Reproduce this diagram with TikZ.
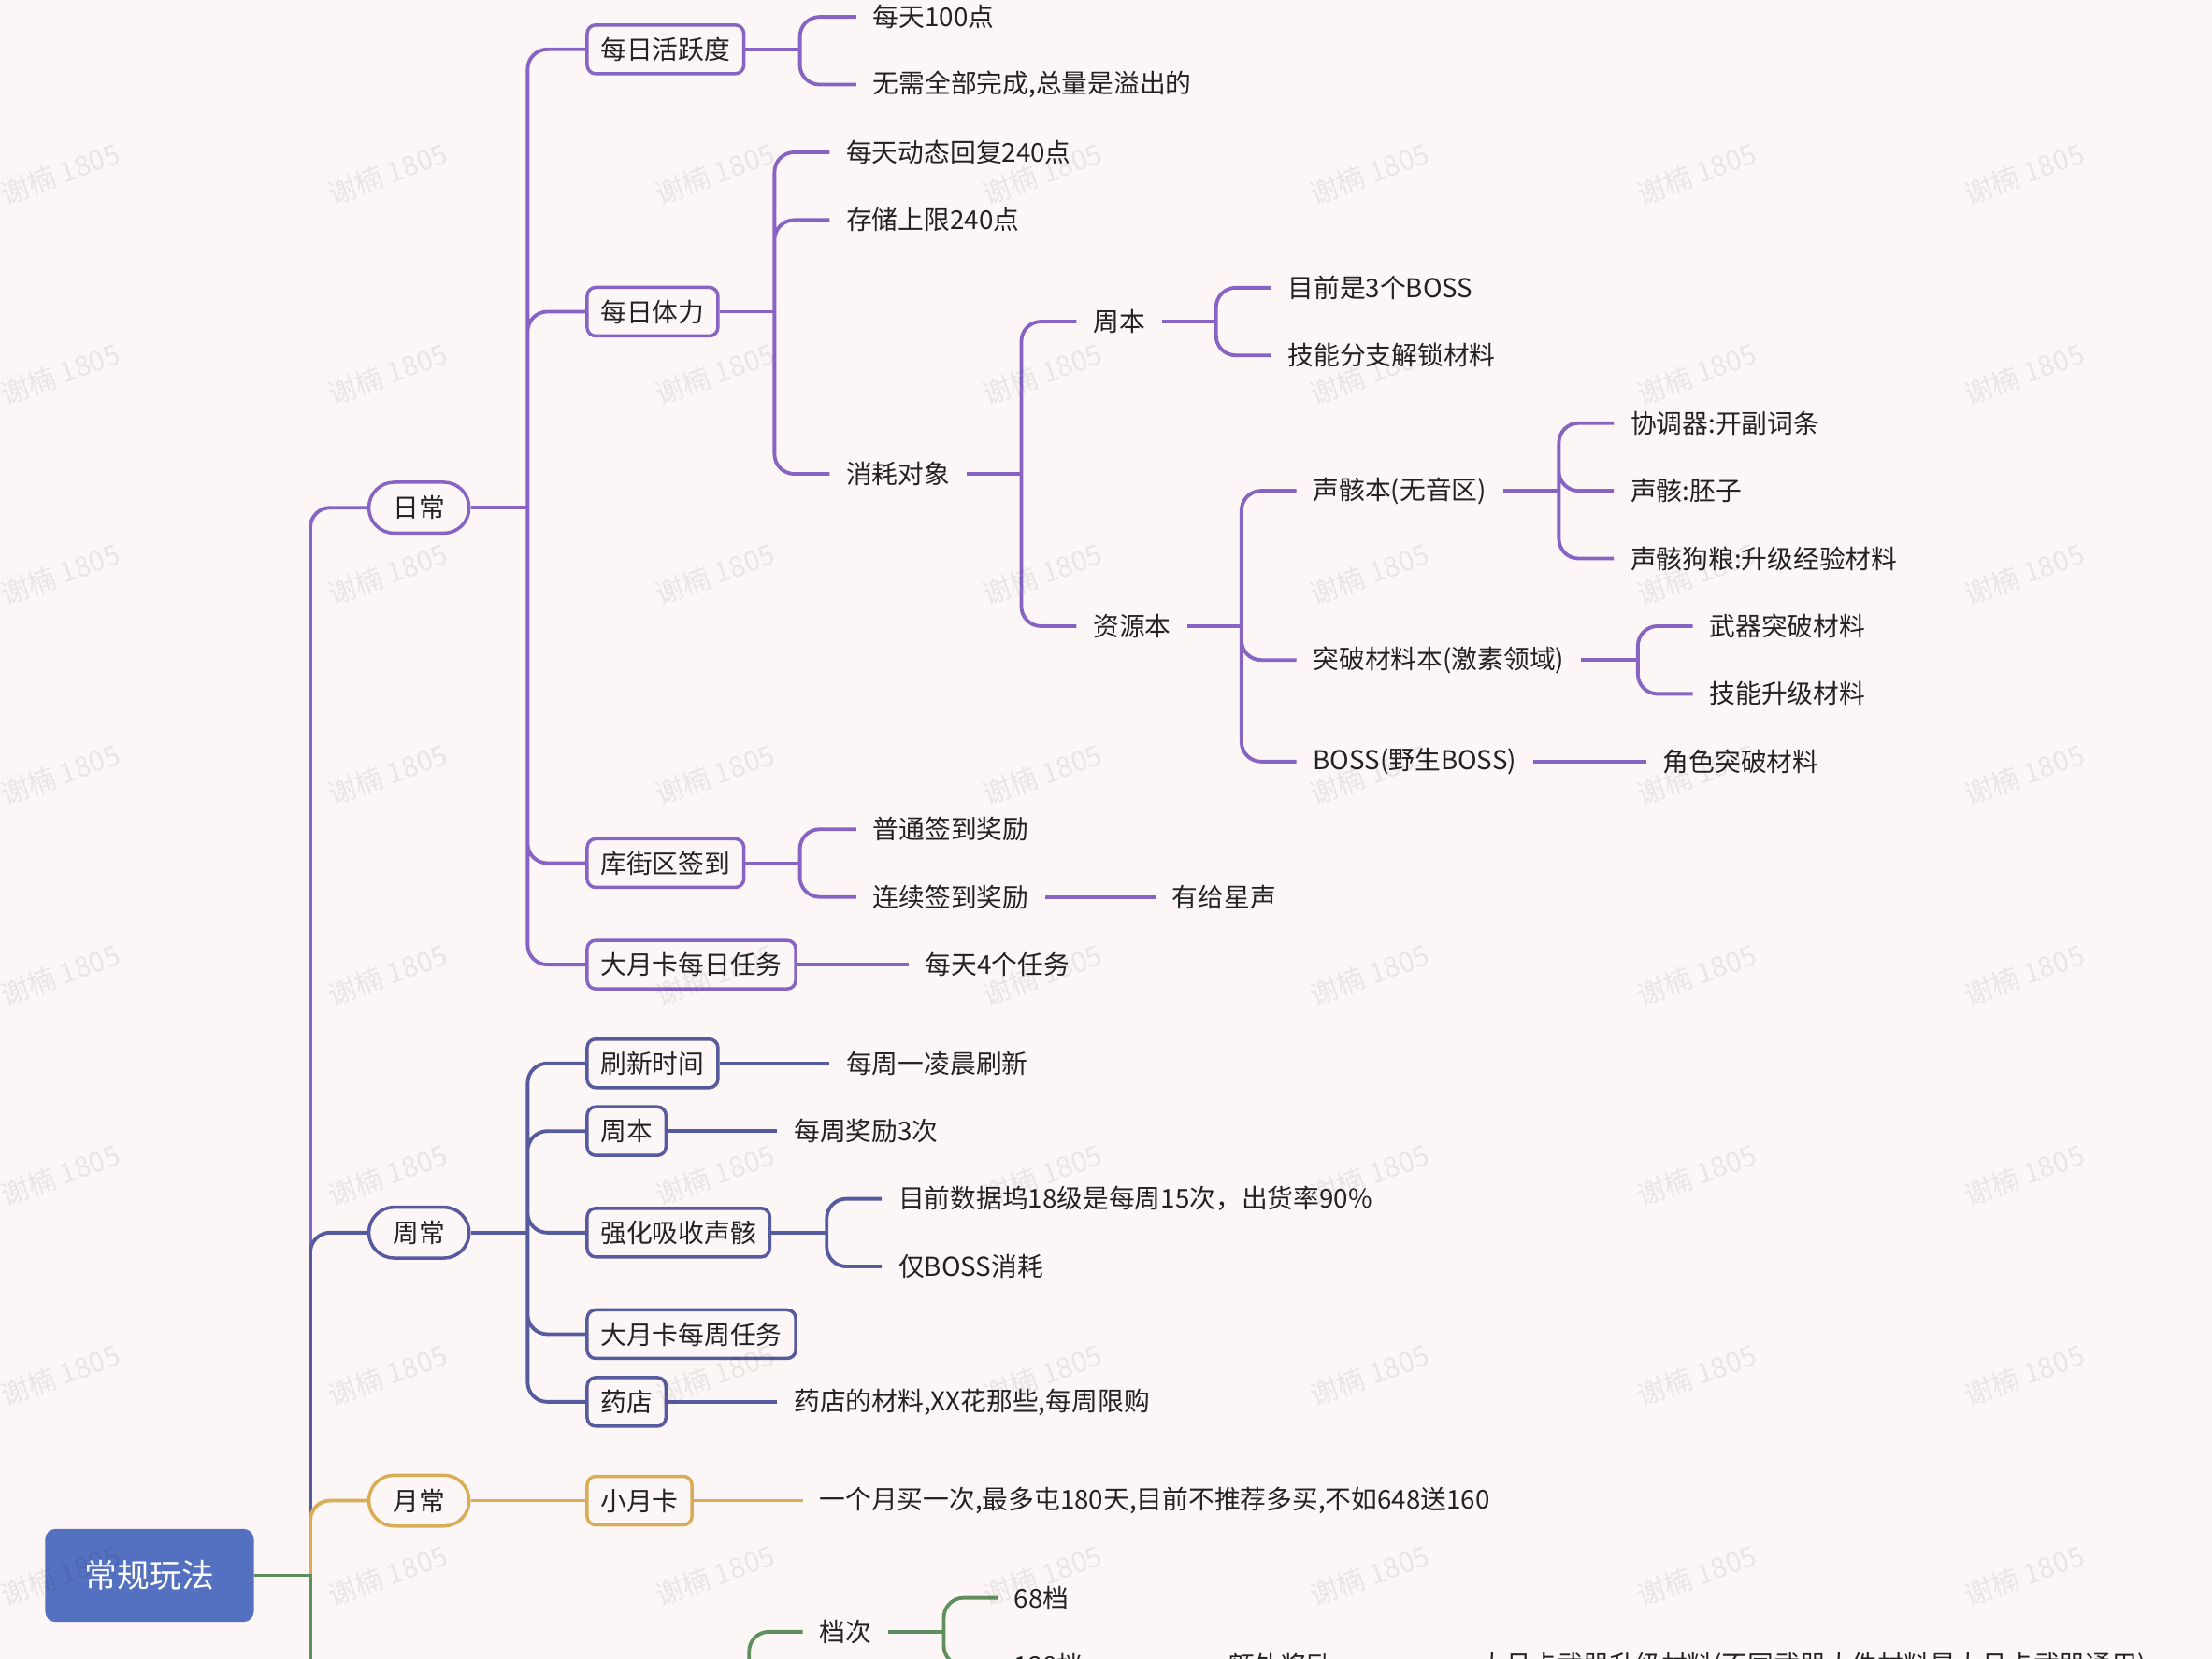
\documentclass[tikz,border=0pt]{standalone}
\usepackage{fontspec}
\setmainfont{Noto Sans CJK SC}
\usetikzlibrary{positioning}
\newcommand*{\mapfont}{\fontsize{7.9pt}{9pt}\selectfont}
\definecolor{bg}{RGB}{253,246,246}
\definecolor{ink}{RGB}{34,34,34}
\definecolor{R}{RGB}{84,112,192}
\definecolor{D}{RGB}{135,100,195}
\definecolor{W}{RGB}{86,90,158}
\definecolor{M}{RGB}{217,173,85}
\definecolor{V}{RGB}{94,143,94}
\tikzstyle{base}=[x=0.01509cm, y=-0.01509cm, font=\mapfont, text=ink]
\tikzstyle{rootbox}=[fill=R, rounded corners=3.2pt, minimum width=63.5pt, minimum height=28.3pt, text=white, font=\fontsize{9.9pt}{11pt}\selectfont]
\tikzstyle{pill}=[draw, fill=bg, line width=1pt, rounded corners=7.7pt, minimum width=30.5pt, minimum height=15.5pt, inner xsep=0pt]
\tikzstyle{topic}=[draw, fill=bg, line width=1pt, rounded corners=2.6pt, minimum height=14.8pt, inner xsep=4.1pt, inner ysep=0pt, anchor=west]
\tikzstyle{leaf}=[inner xsep=4.9pt, inner ysep=1pt, anchor=west]
\tikzstyle{link}=[line width=1.1pt]
\tikzstyle{elbow}=[line width=1.1pt, rounded corners=6pt]
\tikzstyle{wmark}=[text=black, opacity=0.07, rotate=20, font=\fontsize{8.5pt}{9pt}\selectfont]

\begin{document}
\begin{tikzpicture}[base]
    \path[use as bounding box] (0,0) rectangle (1568,1176);
    \clip (0,0) rectangle (1568,1176);
    \fill[bg] (0,0) rectangle (1568,1176);

    % root
    \node[rootbox] (root) at (106,1117) {常规玩法};
    \coordinate (trunk) at (220,1117);
    \coordinate (trunk-end) at (220,1260);

    % daily
    \node[pill, draw=D] (daily) at (297,360) {日常};
    \coordinate (daily-j) at (374,360);
    \node[topic, draw=D] (act) at (415,35) {每日活跃度};
    \node[leaf] (act-a) at (607,12) {每天100点};
    \node[leaf] (act-b) at (607,60) {无需全部完成,总量是溢出的};
    \coordinate (act-j) at (567,35);
    \node[topic, draw=D] (sta) at (415,221) {每日体力};
    \node[leaf] (sta-a) at (588,108) {每天动态回复240点};
    \node[leaf] (sta-b) at (588,156) {存储上限240点};
    \node[leaf] (use) at (588,336) {消耗对象};
    \coordinate (sta-j) at (549,221);
    \node[leaf] (wk) at (763,228) {周本};
    \node[leaf] (res) at (763,444) {资源本};
    \coordinate (use-j) at (724,336);
    \node[leaf] (wk-a) at (901,204) {目前是3个BOSS};
    \node[leaf] (wk-b) at (901,252) {技能分支解锁材料};
    \coordinate (wk-j) at (862,228);
    \node[leaf] (echo) at (919,348) {声骸本(无音区)};
    \node[leaf] (asc) at (919,468) {突破材料本(激素领域)};
    \node[leaf] (boss) at (919,540) {BOSS(野生BOSS)};
    \coordinate (res-j) at (880,444);
    \node[leaf] (echo-a) at (1144,300) {协调器:开副词条};
    \node[leaf] (echo-b) at (1144,348) {声骸:胚子};
    \node[leaf] (echo-c) at (1144,396) {声骸狗粮:升级经验材料};
    \coordinate (echo-j) at (1105,348);
    \node[leaf] (asc-a) at (1200,444) {武器突破材料};
    \node[leaf] (asc-b) at (1200,492) {技能升级材料};
    \coordinate (asc-j) at (1161,468);
    \node[leaf] (boss-a) at (1167,540) {角色突破材料};
    \node[topic, draw=D] (sign) at (415,612) {库街区签到};
    \node[leaf] (sign-a) at (607,588) {普通签到奖励};
    \node[leaf] (sign-b) at (607,636) {连续签到奖励};
    \node[leaf] (sign-c) at (819,636) {有给星声};
    \coordinate (sign-j) at (567,612);
    \node[topic, draw=D] (dtask) at (415,684) {大月卡每日任务};
    \node[leaf] (dtask-a) at (644,684) {每天4个任务};

    \draw[elbow, D] (trunk) |- (daily.west);
    \draw[link, D] (daily.east) -- (daily-j);
    \draw[elbow, D] (daily-j) |- (act.west) (daily-j) |- (sta.west)
        (daily-j) |- (sign.west) (daily-j) |- (dtask.west);
    \draw[link, D] (act.east) -- (act-j);
    \draw[elbow, D] (act-j) |- (act-a.west) (act-j) |- (act-b.west);
    \draw[link, D] (sta.east) -- (sta-j);
    \draw[elbow, D] (sta-j) |- (sta-a.west) (sta-j) |- (sta-b.west) (sta-j) |- (use.west);
    \draw[link, D] (use.east) -- (use-j);
    \draw[elbow, D] (use-j) |- (wk.west) (use-j) |- (res.west);
    \draw[link, D] (wk.east) -- (wk-j);
    \draw[elbow, D] (wk-j) |- (wk-a.west) (wk-j) |- (wk-b.west);
    \draw[link, D] (res.east) -- (res-j);
    \draw[elbow, D] (res-j) |- (echo.west) (res-j) |- (asc.west) (res-j) |- (boss.west);
    \draw[link, D] (echo.east) -- (echo-j);
    \draw[elbow, D] (echo-j) |- (echo-a.west) (echo-j) |- (echo-b.west) (echo-j) |- (echo-c.west);
    \draw[link, D] (asc.east) -- (asc-j);
    \draw[elbow, D] (asc-j) |- (asc-a.west) (asc-j) |- (asc-b.west);
    \draw[link, D] (boss.east) -- (boss-a.west);
    \draw[link, D] (sign.east) -- (sign-j);
    \draw[elbow, D] (sign-j) |- (sign-a.west) (sign-j) |- (sign-b.west);
    \draw[link, D] (sign-b.east) -- (sign-c.west);
    \draw[link, D] (dtask.east) -- (dtask-a.west);

    % weekly
    \node[pill, draw=W] (weekly) at (297,874) {周常};
    \coordinate (weekly-j) at (374,874);
    \node[topic, draw=W] (ref) at (415,754) {刷新时间};
    \node[leaf] (ref-a) at (588,754) {每周一凌晨刷新};
    \node[topic, draw=W] (wboss) at (415,802) {周本};
    \node[leaf] (wboss-a) at (551,802) {每周奖励3次};
    \node[topic, draw=W] (absorb) at (415,874) {强化吸收声骸};
    \node[leaf] (absorb-a) at (625,850) {目前数据坞18级是每周15次，出货率90\%};
    \node[leaf] (absorb-b) at (625,898) {仅BOSS消耗};
    \coordinate (absorb-j) at (586,874);
    \node[topic, draw=W] (wtask) at (415,946) {大月卡每周任务};
    \node[topic, draw=W] (shop) at (415,994) {药店};
    \node[leaf] (shop-a) at (551,994) {药店的材料,XX花那些,每周限购};

    \draw[elbow, W] (trunk) |- (weekly.west);
    \draw[link, W] (weekly.east) -- (weekly-j);
    \draw[elbow, W] (weekly-j) |- (ref.west) (weekly-j) |- (wboss.west) (weekly-j) |- (absorb.west)
        (weekly-j) |- (wtask.west) (weekly-j) |- (shop.west);
    \draw[link, W] (ref.east) -- (ref-a.west);
    \draw[link, W] (wboss.east) -- (wboss-a.west);
    \draw[link, W] (absorb.east) -- (absorb-j);
    \draw[elbow, W] (absorb-j) |- (absorb-a.west) (absorb-j) |- (absorb-b.west);
    \draw[link, W] (shop.east) -- (shop-a.west);

    % monthly
    \node[pill, draw=M] (monthly) at (297,1064) {月常};
    \node[topic, draw=M] (card) at (415,1064) {小月卡};
    \node[leaf] (card-a) at (569,1064) {一个月买一次,最多屯180天,目前不推荐多买,不如648送160};

    \draw[elbow, M] (trunk) |- (monthly.west);
    \draw[link, M] (monthly.east) -- (card.west);
    \draw[link, M] (card.east) -- (card-a.west);

    % pass
    \coordinate (pass-j) at (531,1260);
    \node[leaf] (tier) at (569,1157) {档次};
    \coordinate (tier-j) at (669,1157);
    \node[leaf] (tier-a) at (707,1133) {68档};
    \node[leaf] (tier-b) at (707,1181) {128档};
    \node[leaf] (extra) at (859,1181) {额外奖励};
    \node[leaf] (extra-a) at (1037,1181) {大月卡武器升级材料(不同武器大件材料是大月卡武器通用)};

    \draw[link, V] (root.east) -- (trunk) -- (trunk-end);
    \draw[elbow, V] (pass-j) |- (tier.west);
    \draw[link, V] (tier.east) -- (tier-j);
    \draw[elbow, V] (tier-j) |- (tier-a.west) (tier-j) |- (tier-b.west);
    \draw[link, V] (tier-b.east) -- (extra.west);
    \draw[link, V] (extra.east) -- (extra-a.west);

    % watermark
    \foreach \x in {43,275,...,1435}
        \foreach \y in {123,265,...,1117}
            \node[wmark] (wm-\x-\y) at (\x,\y) {谢楠 1805};
\end{tikzpicture}
\end{document}
